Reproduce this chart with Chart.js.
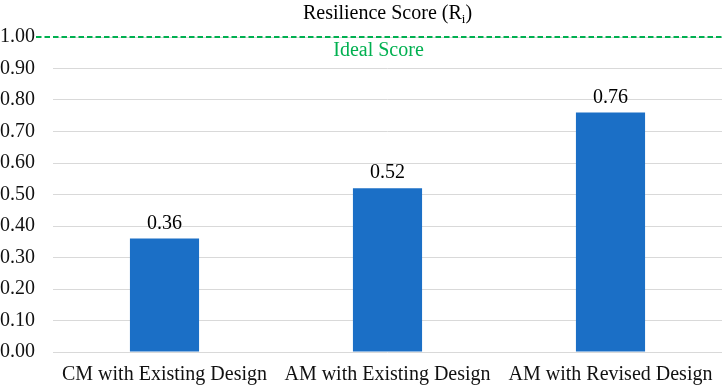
<!DOCTYPE html>
<html>
<head>
<meta charset="utf-8">
<script src="https://cdn.jsdelivr.net/npm/chart.js@4"></script>
<style>
  html, body { margin: 0; padding: 0; background: #fff; }
  #wrap { width: 726px; height: 387px; }
</style>
</head>
<body>
<div id="wrap"><canvas id="scoreChart" width="726" height="387"></canvas></div>
<script>
  /* ── Data ── */
  const categories = ['CM with Existing Design', 'AM with Existing Design', 'AM with Revised Design'];
  const scores = [0.36, 0.52, 0.76];
  const idealScore = 1.0;
  const yTicks = [0, 0.1, 0.2, 0.3, 0.4, 0.5, 0.6, 0.7, 0.8, 0.9, 1.0];

  const FONT = 'Liberation Serif, Times New Roman, serif';

  /* ── Title with subscript, ideal line, bar labels ── */
  const overlay = {
    id: 'overlay',
    afterDatasetsDraw(chart) {
      const { ctx, chartArea, scales } = chart;
      const y1 = scales.y.getPixelForValue(idealScore);
      const mid = (chartArea.left + chartArea.right) / 2;

      // dashed ideal line
      ctx.save();
      ctx.strokeStyle = '#00B050';
      ctx.lineWidth = 2;
      ctx.setLineDash([5.5, 3]);
      ctx.beginPath();
      ctx.moveTo(chartArea.left - 17, y1);
      ctx.lineTo(chartArea.right + 2, y1);
      ctx.stroke();
      ctx.setLineDash([]);

      ctx.fillStyle = '#00B050';
      ctx.font = `20px ${FONT}`;
      ctx.textAlign = 'center';
      ctx.textBaseline = 'middle';
      ctx.fillText('Ideal Score', mid - 9, y1 + 14);

      // values above bars
      ctx.fillStyle = '#000';
      ctx.textBaseline = 'alphabetic';
      chart.getDatasetMeta(0).data.forEach((bar, i) => {
        ctx.fillText(scores[i].toFixed(2), bar.x, bar.y - 10);
      });

      // title: Resilience Score (R_i)
      const main = 'Resilience Score (R';
      ctx.font = `20px ${FONT}`;
      const wMain = ctx.measureText(main).width;
      ctx.font = `13px ${FONT}`;
      const wSub = ctx.measureText('i').width;
      ctx.font = `20px ${FONT}`;
      const wClose = ctx.measureText(')').width;
      let x = mid - (wMain + wSub + wClose) / 2;
      const ty = 19;
      ctx.textAlign = 'left';
      ctx.fillText(main, x, ty);
      x += wMain;
      ctx.font = `13px ${FONT}`;
      ctx.fillText('i', x, ty + 4);
      x += wSub;
      ctx.font = `20px ${FONT}`;
      ctx.fillText(')', x, ty);
      ctx.restore();
    }
  };

  new Chart(document.getElementById('scoreChart').getContext('2d'), {
    type: 'bar',
    data: {
      labels: categories,
      datasets: [{
        data: scores,
        backgroundColor: '#1B6FC6',
        categoryPercentage: 1.0,
        barPercentage: 0.31
      }]
    },
    options: {
      responsive: false,
      animation: false,
      layout: { padding: { top: 37, right: 4, bottom: 0, left: 0 } },
      plugins: {
        legend: { display: false },
        title: { display: false },
        tooltip: { enabled: false }
      },
      scales: {
        y: {
          min: 0,
          max: 1.0,
          afterBuildTicks: axis => { axis.ticks = yTicks.map(v => ({ value: v })); },
          afterFit: axis => { axis.width = 53; },
          ticks: {
            color: '#111',
            font: { size: 20, family: FONT },
            padding: 18,
            callback: v => Number(v).toFixed(2)
          },
          grid: { color: '#D9D9D9', lineWidth: 1, drawTicks: false },
          border: { display: false }
        },
        x: {
          afterFit: axis => {
            axis.height = 35;
            axis.paddingLeft = 0;
            axis.paddingRight = 0;
            axis.paddingBottom = 0;
          },
          ticks: {
            color: '#111',
            font: { size: 20, family: FONT },
            padding: 11,
            maxRotation: 0,
            autoSkip: false
          },
          grid: { display: false, drawTicks: false },
          border: { display: false }
        }
      }
    },
    plugins: [overlay]
  });
</script>
</body>
</html>
